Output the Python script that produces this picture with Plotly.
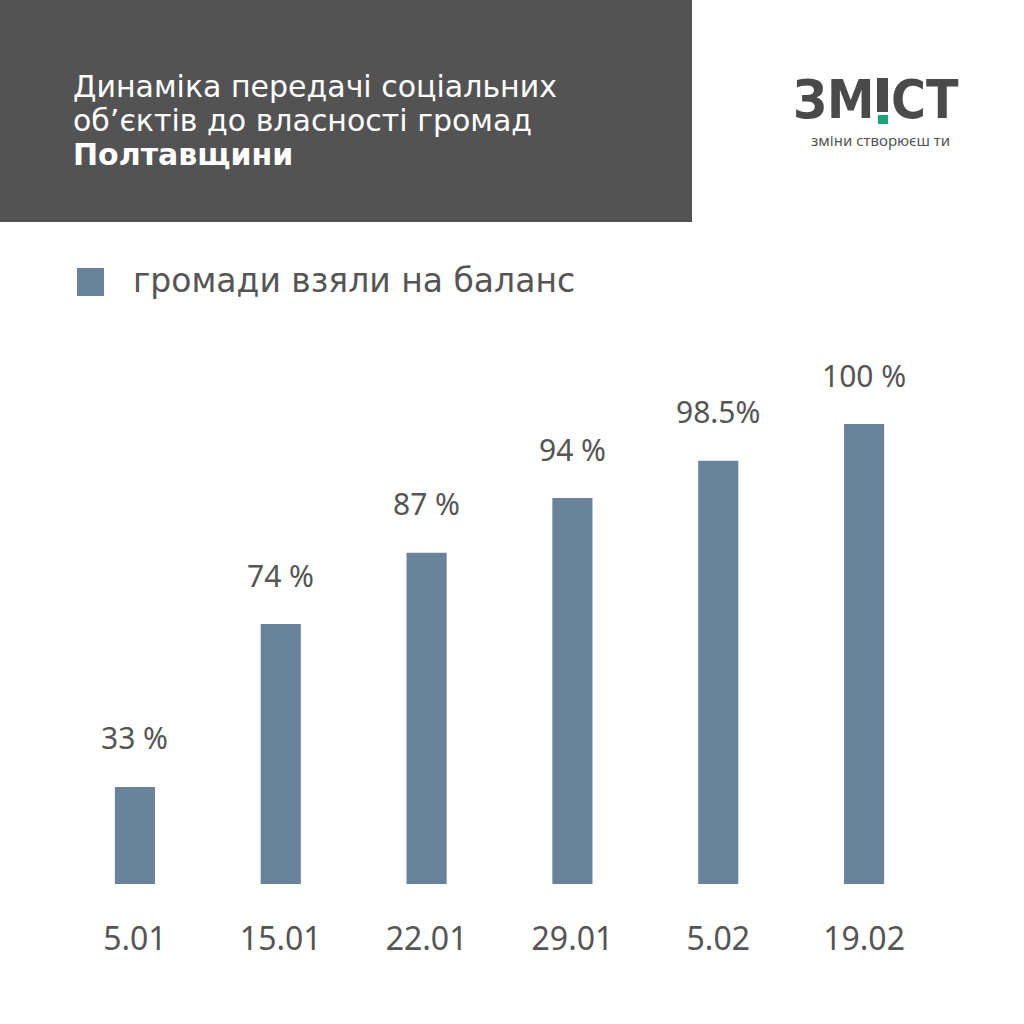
import plotly.graph_objects as go

# chart data
dates = ["5.01", "15.01", "22.01", "29.01", "5.02", "19.02"]
bar_heights = [21.1, 56.5, 72.0, 83.9, 92.0, 100.0]   # drawn heights, tallest bar = 100
value_labels = ["33 %", "74 %", "87 %", "94 %", "98.5%", "100 %"]
legend_label = "громади взяли на баланс"
title_lines = ["Динаміка передачі соціальних", "об’єктів до власності громад", "<b>Полтавщини</b>"]
logo_left, logo_right = "ЗМ", "СТ"
logo_tagline = "зміни створюєш ти"

W = H = 1024
L, R, T, B = 62, 87, 424, 140
BAR = "#68839a"
TEXT = "#555555"
DARK = "#545354"
FONT = "Noto Sans"
WIDE = "DejaVu Sans"


def px(x):
    return (x - L) / (W - L - R)


def py(y):
    return (H - B - y) / (H - T - B)


fig = go.Figure()
fig.add_trace(go.Bar(x=dates, y=bar_heights, marker_color=BAR, marker_line_width=0,
                     width=0.275, hoverinfo="skip"))

# value labels above bars
for i, (h, lab) in enumerate(zip(bar_heights, value_labels)):
    fig.add_annotation(x=i, y=h, xref="x", yref="y", text=lab, showarrow=False,
                       yanchor="middle", yshift=49, font=dict(family=FONT, size=30, color=TEXT))

# header block
fig.add_shape(type="rect", xref="paper", yref="paper", x0=px(0), x1=px(692), y0=py(0), y1=py(222),
              fillcolor=DARK, line_width=0, layer="below")
for line, yc in zip(title_lines, [86, 121, 155]):
    fig.add_annotation(xref="paper", yref="paper", x=px(71), y=py(yc), xanchor="left", yanchor="middle",
                       showarrow=False, text=line, font=dict(family=WIDE, size=30, color="white"))

# logo
logo_font = dict(family="DejaVu Sans Condensed", size=53, color="#4a4a4a")
fig.add_annotation(xref="paper", yref="paper", x=px(876), y=py(99), xanchor="right", yanchor="middle",
                   showarrow=False, text="<b>" + logo_left + "</b>", font=logo_font)
fig.add_annotation(xref="paper", yref="paper", x=px(889), y=py(99), xanchor="left", yanchor="middle",
                   showarrow=False, text="<b>" + logo_right + "</b>", font=logo_font)
fig.add_shape(type="rect", xref="paper", yref="paper", x0=px(877), x1=px(888), y0=py(78), y1=py(112),
              fillcolor="#4a4a4a", line_width=0)
fig.add_shape(type="rect", xref="paper", yref="paper", x0=px(878), x1=px(888), y0=py(115), y1=py(124),
              fillcolor="#1fa37a", line_width=0)
fig.add_annotation(xref="paper", yref="paper", x=px(809), y=py(140), xanchor="left", yanchor="middle",
                   showarrow=False, text=logo_tagline,
                   font=dict(family=FONT, size=15, color=TEXT))

# legend
fig.add_shape(type="rect", xref="paper", yref="paper", x0=px(77), x1=px(104), y0=py(268), y1=py(296),
              fillcolor=BAR, line_width=0)
fig.add_annotation(xref="paper", yref="paper", x=px(131), y=py(281), xanchor="left", yanchor="middle",
                   showarrow=False, text=legend_label,
                   font=dict(family=WIDE, size=33, color=TEXT))

fig.update_layout(
    width=W, height=H,
    margin=dict(l=L, r=R, t=T, b=B, pad=0),
    paper_bgcolor="white", plot_bgcolor="white",
    showlegend=False,
    xaxis=dict(type="category", range=[-0.5, 5.5], showline=False, showgrid=False, zeroline=False,
               ticks="", ticklabelstandoff=33, tickfont=dict(family=FONT, size=32, color=TEXT)),
    yaxis=dict(range=[0, 100], visible=False, showgrid=False, zeroline=False),
)

fig.write_html("out.html", config={"displayModeBar": False},
               post_script="document.body.style.margin='0';")
